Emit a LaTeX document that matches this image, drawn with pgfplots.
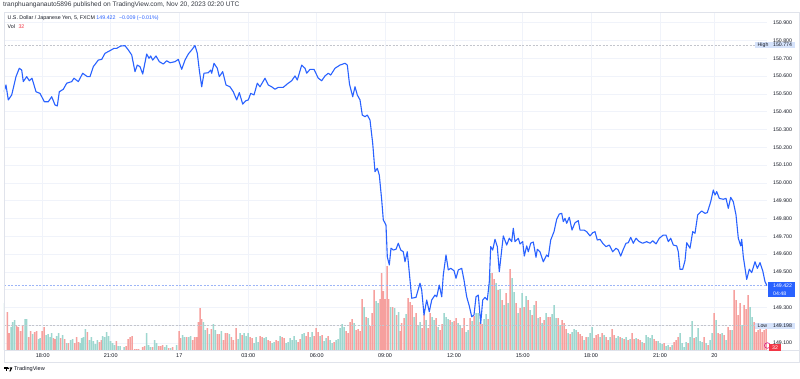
\documentclass[border=0pt]{standalone}
\usepackage{pgfplots}
\pgfplotsset{compat=1.18}
\usepackage{fontspec}
\setmainfont{Liberation Sans}
\definecolor{tvblue}{HTML}{2962FF}
\definecolor{tvtext}{HTML}{131722}
\definecolor{tvgrid}{HTML}{F0F3FA}
\definecolor{tvborder}{HTML}{E0E3EB}
\definecolor{volred}{HTML}{F6A09E}
\definecolor{volgreen}{HTML}{9ED7CF}
\definecolor{tvred}{HTML}{F23645}
\definecolor{hlbox}{HTML}{D6E3FB}
\definecolor{dashgray}{HTML}{C3C5CC}
\definecolor{curdash}{HTML}{9DB5F7}
\begin{document}
\begin{tikzpicture}[x=1pt,y=1pt]
\useasboundingbox (0,0) rectangle (800,378);
\fill[white] (0,0) rectangle (800,378);
% grid + price scale + time axis
\begin{axis}[at={(4pt,28pt)}, anchor=south west, width=763pt, height=337pt, scale only axis,
  xmin=4, xmax=767, ymin=149.0612, ymax=150.9545,
  axis line style={draw=none}, major tick length=0pt,
  grid=major, grid style={color=tvgrid, line width=0.6pt},
  xtick={42.7,110.7,179.3,248.3,316.7,385,454,522.7,591,660,714.3},
  xticklabels={18:00,21:00,17,03:00,06:00,09:00,12:00,15:00,18:00,21:00,20},
  ytick={149.1,149.2,149.3,149.4,149.5,149.6,149.7,149.8,149.9,150.0,150.1,150.2,150.3,150.4,150.5,150.6,150.7,150.8,150.9},
  yticklabels={149.100,149.200,149.300,149.400,149.500,149.600,149.700,149.800,149.900,150.000,150.100,150.200,150.300,150.400,150.500,150.600,150.700,150.800,150.900},
  yticklabel pos=right,
  xticklabel style={font=\fontsize{5.5}{6}\selectfont, text=tvtext, anchor=center, inner sep=0pt, yshift=-6pt},
  yticklabel style={font=\fontsize{5.2}{6}\selectfont, text=tvtext, anchor=west, inner sep=0pt, xshift=6pt},
]
\addplot[draw=none] coordinates {(4,150) (767,150)};
\end{axis}
% volume
\begin{axis}[at={(4pt,28pt)}, anchor=south west, width=763pt, height=337pt, scale only axis,
  xmin=4, xmax=767, ymin=0, ymax=337, hide axis,
  every axis plot/.append style={ybar, bar width=1.5, bar shift=0pt, draw=none}]
\addplot[fill=volred] coordinates {(7.3,38)(9,17)(16.7,24)(18.3,23)(20.7,19)(22.7,25)(28.7,13)(30.7,19)(34.7,18)(36.7,19)(42,19)(44,23)(53.3,12)(55,11)(60.7,12)(64.7,11)(68.3,7)(74.7,7)(76.7,13)(78.7,8)(87.3,18)(99.3,8)(101.3,10)(116.3,9)(126,4)(128,11)(130,13)(132,14)(134.7,1)(136.7,1)(138.7,1)(142.7,3)(144.7,4)(152.7,3)(158.7,4)(160.7,4)(162.7,5)(168.7,2)(172.7,3)(179,19)(180.7,12)(186.7,13)(192.7,10)(194.7,13)(196.7,13)(198.3,28)(200,42)(201.7,31)(207.3,22)(211.3,21)(217.3,16)(219.3,16)(223.3,10)(225.3,17)(227.3,17)(231.3,13)(233.3,10)(236,22)(242,15)(250,13)(252,12)(260,14)(262,13)(268,10)(270,9)(276,10)(278,9)(282,13)(284,12)(298,8)(300,11)(306,14)(308,18)(314,14)(316,22)(318,18)(322,15)(328,14)(334,8)(346,19)(348,17)(350,28)(352,31)(356,20)(358,21)(360,19)(362,51)(366,33)(370,24)(372,37)(374,60)(380,51)(381.7,77)(383.3,59)(385,51)(387,84)(388.7,51)(392.7,43)(396.7,35)
(400,19)(401.7,27)(404,32)(408,52)(410,48)(412,45)(416,37)(422,22)(424,36)(428,22)(430,37)(436,32)(440,20)(442,26)(450,30)(454,29)(456,32)(462,22)(464,32)(470,32)(474,34)(480,28)(482,26)(488,31)(492,77)(494,71)(498,60)(502,50)(506,57)(510,81)(516,47)(520,42)(524,43)(528,50)(532,35)(536,49)(540,33)(544,30)(548,33)(550,33)(558,32)(562,30)(564,27)(566,21)(570,16)(578,18)(580,16)(582,14)(586,13)(594,12)(596,15)(598,16)(602,17)(606,13)(608,10)(612,21)(614,15)(620,13)(624,11)(628,10)(632,17)(634,11)(638,11)(640,10)(644,7)(654,11)(656,9)(664,7)(670,3)(674,8)(676,10)(678,13)(688,7)(694,12)(704,13)(708,5)(714,37)(718,17)(720,16)(724,15)(728,23)(730,20)(734,60)(736,50)(738,35)(740,47)(744,45)(746,41)(748,55)(754,28)(756,18)(758,20)(760,21)(762,18)(764,20)(766,21)};
\addplot[fill=volgreen] coordinates {(4,47)(11,23)(12.7,28)(14.7,30)(25,31)(26.7,31)(32.7,16)(38.7,11)(40,12)(46,15)(48,16)(50,13)(51.7,17)(56.7,14)(58.7,17)(62.7,15)(66.7,7)(70.7,10)(72.7,11)(80,7)(81.7,12)(83.3,13)(85.3,21)(89.3,10)(91.3,13)(93.3,9)(95.3,6)(97.3,10)(102.7,14)(104.7,13)(106.7,18)(108.7,14)(110.7,9)(112.7,7)(114.7,5)(118,4)(120,4)(124,3)(146.7,17)(148.7,5)(150.7,3)(154.7,10)(156.7,7)(164.7,3)(166.7,5)(170.7,2)(176.7,5)(182.7,15)(184.7,13)(188.7,13)(190.7,14)(203.3,28)(205.3,20)(209.3,16)(213.3,26)(215.3,20)(221.3,19)(229.3,16)(238,11)(240,17)(244,17)(246,14)(248,17)(254,7)(256,13)(258,8)(264,12)(266,13)(272,7)(274,8)(280,14)(286,7)(288,8)(290,12)(292,10)(294,14)(296,10)(302,16)(304,17)(310,13)(312,18)(320,14)(324,9)(326,12)(330,10)(332,7)(336,10)(338,11)(340,22)(342,26)(344,23)(354,27)(364,43)(368,32)(376,49)(378,47)(390.7,43)(394.7,42)(398.7,38)
(406,36)(414,33)(418,25)(420,28)(426,30)(432,33)(434,30)(438,23)(444,37)(446,33)(448,31)(452,28)(458,27)(460,25)(466,18)(468,20)(472,29)(476,37)(478,37)(484,31)(486,36)(490,77)(496,67)(500,61)(504,45)(508,47)(512,72)(514,58)(518,37)(522,57)(526,54)(530,40)(534,45)(538,32)(542,27)(546,37)(552,36)(554,45)(556,32)(560,25)(568,17)(572,18)(574,21)(576,20)(584,10)(588,13)(590,17)(592,23)(600,13)(604,15)(610,13)(616,12)(618,14)(622,12)(626,13)(630,11)(636,12)(642,8)(646,15)(648,13)(650,12)(652,15)(658,9)(660,7)(662,6)(666,4)(668,5)(672,5)(680,17)(682,7)(684,3)(686,8)(690,13)(692,29)(696,13)(698,22)(700,9)(702,8)(706,7)(710,10)(712,17)(716,30)(722,17)(726,10)(732,20)(742,25)(750,43)(752,33)};
\end{axis}
% price line
\begin{axis}[at={(4pt,28pt)}, anchor=south west, width=763pt, height=337pt, scale only axis,
  xmin=4, xmax=767, ymin=149.0612, ymax=150.9545, hide axis]
\addplot[dashgray, line width=0.5pt, dash pattern=on 2pt off 1.5pt] coordinates {(4,150.774) (755,150.774)};
\addplot[dashgray, line width=0.5pt, dash pattern=on 2pt off 1.5pt] coordinates {(4,149.198) (755,149.198)};
\addplot[curdash, line width=0.8pt, dash pattern=on 2pt off 1.5pt] coordinates {(4,149.422) (767,149.422)};
\addplot[tvblue, line width=1.1pt, line join=round, no marks] coordinates {
(4,150.512) (6,150.550) (8.3,150.466) (11.7,150.494) (16,150.597) (19.3,150.644) (21.7,150.634) (23.3,150.569) (26.7,150.597) (29.3,150.574) (32,150.588) (36,150.512) (40,150.503) (44.3,150.456) (48.3,150.456) (51.7,150.484) (55,150.438) (57.3,150.432) (59.3,150.512) (63.3,150.526) (66.7,150.560) (71.7,150.569) (74,150.588) (78.3,150.569) (82.7,150.616) (87.3,150.597) (90,150.597) (93.3,150.653) (98.3,150.690) (101.7,150.694) (105,150.728) (110,150.743) (114,150.756) (116.7,150.756) (120.7,150.769) (125,150.771) (128.3,150.747) (131.7,150.719) (135,150.625) (137.3,150.662) (140,150.653) (142.7,150.612) (146.7,150.724) (149,150.700) (150.7,150.713) (152.7,150.690) (156,150.713) (159.3,150.681) (163.3,150.668) (166.7,150.686) (170,150.675) (175,150.681) (178.3,150.694) (181.7,150.638) (185,150.690) (188.3,150.724) (191.7,150.747) (195,150.772) (197.3,150.728) (199.3,150.634) (201.7,150.540) (204,150.616) (208.3,150.619) (210.7,150.634) (211.7,150.616) (214,150.672) (217.3,150.644) (219.3,150.597) (222.7,150.625) (226,150.550) (230,150.540) (233.3,150.512) (236.7,150.466) (239.3,150.507) (242.7,150.443) (246,150.462) (248.3,150.466) (250.7,150.503) (254,150.494) (257.3,150.560) (260,150.540) (265,150.588) (268.3,150.550) (271.7,150.540) (275,150.526) (278.3,150.537) (283.3,150.537) (287.3,150.556) (291.7,150.574) (295,150.601) (297.3,150.578) (301.7,150.662) (305,150.644) (306.7,150.616) (310,150.638) (314,150.638) (318.3,150.588) (321.7,150.574) (325,150.601) (328.3,150.616) (330.7,150.606) (335,150.644) (340,150.662) (345,150.672) (347.3,150.662) (349.5,150.555) (352.7,150.484) (355,150.540) (357.3,150.494) (360,150.466) (362.3,150.381) (365,150.372) (367.3,150.381) (370,150.353) (372.7,150.222) (375,150.063) (377.3,150.082) (379.3,150.044) (381.7,149.904) (383.3,149.792) (386,149.763) (387.3,149.585) (389.3,149.539) (391,149.633) (393.3,149.623) (396,149.627) (398.3,149.661) (400.7,149.623) (403.3,149.613) (405,149.557) (407.3,149.613) (410,149.454) (411.7,149.352) (416,149.357) (420,149.436) (421.7,149.398) (424,149.258) (426.7,149.342) (429.3,149.276) (431.7,149.342) (435,149.370) (436.7,149.360) (439.3,149.426) (441.7,149.360) (443.3,149.483) (446,149.595) (448.3,149.511) (450.7,149.520) (454,149.507) (456,149.464) (458.3,149.511) (461.7,149.520) (464,149.454) (466.7,149.360) (469.3,149.308) (471.7,149.248) (474,149.258) (476,149.360) (478.3,149.370) (480.7,149.210) (482.7,149.342) (485,149.357) (487.3,149.342) (489.3,149.445) (490.7,149.642) (492.7,149.623) (495,149.683) (497.3,149.642) (499.3,149.501) (501.7,149.623) (503.3,149.702) (506.7,149.651) (509.3,149.689) (511.7,149.670) (513.3,149.745) (515,149.670) (518.3,149.689) (520,149.657) (522.7,149.670) (524.3,149.589) (526.7,149.646) (528.3,149.613) (530.7,149.661) (533.3,149.668) (536,149.582) (537.3,149.627) (540,149.613) (543.3,149.557) (546.7,149.595) (548.3,149.585) (550.7,149.679) (554,149.726) (556.7,149.796) (559.3,149.825) (561.7,149.829) (563.3,149.782) (565,149.801) (566.7,149.773) (569.3,149.807) (572,149.735) (575,149.776) (578.3,149.788) (580,149.735) (584,149.735) (586.7,149.726) (590,149.702) (592.7,149.720) (595,149.726) (597.3,149.679) (600,149.683) (602.7,149.661) (606,149.642) (609.3,149.651) (612.7,149.613) (616,149.633) (618.3,149.623) (620.7,149.589) (623.3,149.627) (626,149.661) (628.3,149.664) (630.7,149.694) (633.3,149.661) (636,149.689) (639.3,149.670) (642.7,149.661) (646.7,149.670) (650,149.661) (652.7,149.675) (656,149.657) (659.3,149.689) (663.3,149.707) (666,149.707) (668.3,149.670) (670.7,149.689) (673.3,149.651) (676.7,149.646) (678.3,149.613) (680,149.515) (682.7,149.515) (685,149.563) (686.7,149.664) (690,149.633) (692.7,149.726) (695,149.717) (697.7,149.820) (701.7,149.842) (705,149.829) (707.3,149.833) (710.7,149.894) (713.3,149.960) (715,149.932) (716.7,149.951) (719.3,149.913) (723.3,149.908) (726,149.913) (728.3,149.857) (730.7,149.919) (733.3,149.894) (736,149.820) (738.3,149.689) (740.7,149.646) (741.7,149.683) (743.3,149.585) (746.7,149.458) (749.3,149.515) (751.7,149.496) (755,149.557) (757.3,149.520) (760,149.552) (762.7,149.507) (765,149.445) (767,149.422)};
\end{axis}
% panel borders
\draw[tvborder, line width=0.5pt] (4,16) rectangle (799.5,365.3);
\draw[tvborder, line width=0.5pt] (4,28) -- (799.5,28);
% header texts
\node[anchor=west, inner sep=0pt, font=\fontsize{6.6}{7}\selectfont, text=tvtext!85] at (3,373) {tranphuanganauto5896 published on TradingView.com, Nov 20, 2023 02:20 UTC};
\node[anchor=west, inner sep=0pt, font=\fontsize{5.3}{6}\selectfont, text=tvtext] at (7.5,359.5) {U.S. Dollar / Japanese Yen, 5, FXCM \textcolor{tvblue}{149.422\hspace{2pt} −0.009 (−0.01\%)}};
\node[anchor=west, inner sep=0pt, font=\fontsize{5.3}{6}\selectfont, text=tvtext] at (7.5,351) {Vol\hspace{2pt} \textcolor{tvred}{32}};
% right price scale labels
\fill[hlbox] (755,330.3) rectangle (795,336.3);
\node[anchor=west, inner sep=0pt, font=\fontsize{5.2}{6}\selectfont, text=tvtext] at (757.5,333.3) {High};
\node[anchor=west, inner sep=0pt, font=\fontsize{5.2}{6}\selectfont, text=tvtext] at (773,333.3) {150.774};
\fill[hlbox] (755,49) rectangle (795,55.3);
\node[anchor=west, inner sep=0pt, font=\fontsize{5.2}{6}\selectfont, text=tvtext] at (757.5,52.2) {Low};
\node[anchor=west, inner sep=0pt, font=\fontsize{5.2}{6}\selectfont, text=tvtext] at (773,52.2) {149.198};
\fill[tvblue] (768,81) rectangle (795,96);
\node[anchor=west, inner sep=0pt, font=\fontsize{5.2}{6}\selectfont, text=white] at (773,92) {149.422};
\node[anchor=west, inner sep=0pt, font=\fontsize{5.2}{6}\selectfont, text=white] at (773,84.5) {04:48};
\draw[magenta!80!violet, line width=0.6pt] (767.3,32.5) circle (2.8);
\fill[tvred] (769,27.5) rectangle (781,34);
\node[inner sep=0pt, font=\fontsize{5.2}{6}\selectfont, text=white] at (775,30.7) {32};
% logo
\fill[black] (4,10.6) rectangle (7.6,9.2);
\fill[black] (5.6,9.2) rectangle (7.1,6.6);
\fill[black] (8.6,9.7) circle (0.8);
\fill[black] (9.6,10.6) -- (12.4,10.6) -- (10.6,6.6) -- (9.3,6.6) -- (10.5,9.3) -- cycle;
\node[anchor=west, inner sep=0pt, font=\fontsize{5.6}{6}\selectfont, text=tvtext] at (13.8,8.6) {TradingView};
\end{tikzpicture}
\end{document}
